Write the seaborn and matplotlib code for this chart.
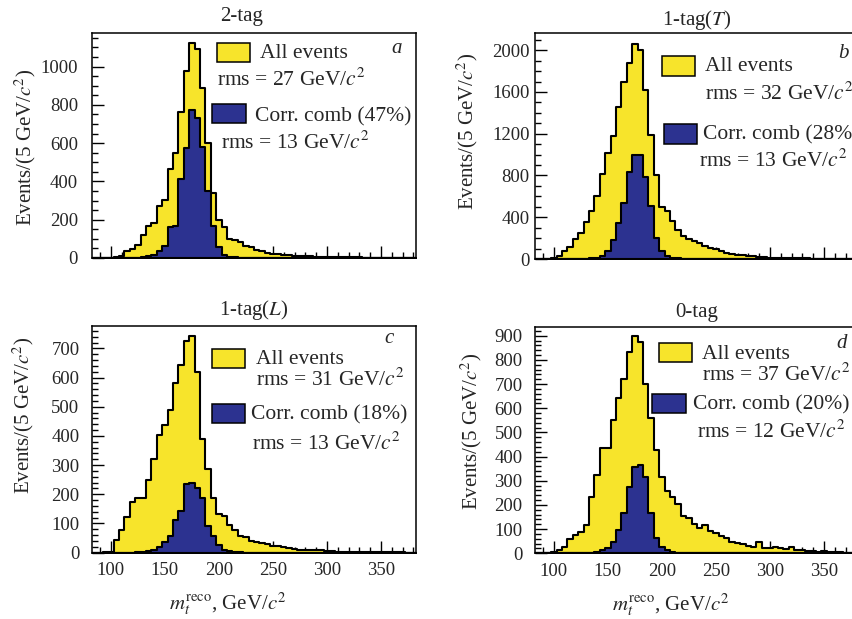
import numpy as np
import pandas as pd
import matplotlib
matplotlib.use("Agg")
import matplotlib.pyplot as plt
from matplotlib.patches import Rectangle
from matplotlib.ticker import MultipleLocator
import seaborn as sns

# 5 GeV/c^2 bins of the reconstructed top mass, 82.5 ... 382.5 GeV/c^2
bin_edges = np.arange(82.5, 383.0, 5.0)
bin_centres = bin_edges[:-1] + 2.5          # 85, 90, ..., 380

# events per bin, all events and correct jet combinations, per tag category
all_2tag = [0, 0, 0, 2, 4, 8, 35, 48, 68, 118,
            165, 182, 270, 305, 465, 550, 765, 975, 1122, 1092,
            888, 600, 342, 200, 160, 100, 95, 86, 62, 55,
            42, 36, 28, 22, 22, 17, 16, 13, 11, 9,
            8, 7, 6, 5, 5, 4, 4, 3, 3, 3,
            2, 2, 2, 2, 1, 1, 1, 1, 1, 1]
corr_2tag = [0, 0, 0, 0, 0, 0, 0, 1, 2, 4,
             8, 15, 36, 62, 162, 168, 414, 574, 772, 730,
             578, 352, 165, 60, 18, 6, 3, 2, 1, 0,
             0, 0, 0, 0, 0, 0, 0, 0, 0, 0,
             0, 0, 0, 0, 0, 0, 0, 0, 0, 0,
             0, 0, 0, 0, 0, 0, 0, 0, 0, 0]

all_1tagT = [0, 0, 2, 6, 32, 75, 118, 192, 245, 352,
             461, 604, 812, 1018, 1177, 1455, 1700, 1875, 2055, 2003,
             1620, 1187, 800, 500, 460, 362, 278, 220, 195, 175,
             150, 128, 102, 93, 80, 61, 48, 38, 38, 29,
             29, 22, 16, 14, 12, 10, 9, 8, 7, 6,
             5, 4, 4, 3, 3, 2, 2, 2, 1, 1]
corr_1tagT = [0, 0, 0, 0, 0, 0, 0, 0, 0, 3,
              6, 12, 32, 74, 186, 346, 540, 830, 995, 995,
              790, 505, 200, 75, 30, 12, 5, 2, 0, 0,
              0, 0, 0, 0, 0, 0, 0, 0, 0, 0,
              0, 0, 0, 0, 0, 0, 0, 0, 0, 0,
              0, 0, 0, 0, 0, 0, 0, 0, 0, 0]

all_1tagL = [0, 0, 1, 3, 44, 77, 122, 172, 187, 187,
             247, 321, 402, 438, 490, 581, 643, 727, 742, 620,
             391, 287, 187, 133, 124, 96, 76, 58, 53, 38,
             36, 33, 28, 22, 22, 18, 15, 12, 10, 7,
             8, 7, 7, 5, 4, 3, 3, 3, 2, 2,
             2, 2, 1, 1, 1, 1, 1, 1, 0, 0]
corr_1tagL = [0, 0, 0, 0, 0, 0, 0, 0, 1, 3,
              5, 10, 18, 35, 55, 112, 142, 235, 240, 222,
              188, 92, 58, 25, 9, 4, 2, 1, 0, 0,
              0, 0, 0, 0, 0, 0, 0, 0, 0, 0,
              0, 0, 0, 0, 0, 0, 0, 0, 0, 0,
              0, 0, 0, 0, 0, 0, 0, 0, 0, 0]

all_0tag = [0, 0, 1, 5, 14, 28, 58, 74, 90, 118,
            232, 322, 437, 437, 552, 642, 722, 833, 897, 876,
            702, 558, 426, 316, 256, 234, 202, 153, 145, 122,
            104, 118, 92, 84, 70, 62, 46, 44, 40, 32,
            28, 46, 22, 22, 26, 20, 18, 24, 14, 12,
            10, 9, 7, 8, 5, 4, 4, 3, 3, 2]
corr_0tag = [0, 0, 0, 0, 0, 0, 0, 0, 0, 1,
             2, 5, 15, 22, 48, 95, 168, 275, 358, 365,
             315, 165, 62, 26, 12, 6, 3, 1, 0, 0,
             0, 0, 0, 0, 0, 0, 0, 0, 0, 0,
             0, 0, 0, 0, 0, 0, 0, 0, 0, 0,
             0, 0, 0, 0, 0, 0, 0, 0, 0, 0]

titles = ["2-tag", "1-tag($T$)", "1-tag($L$)", "0-tag"]
letters = ["a", "b", "c", "d"]
rms_all = [27, 32, 31, 37]
rms_corr = [13, 13, 13, 12]
corr_frac = [47, 28, 18, 20]
x_ticks = [100, 150, 200, 250, 300, 350]

YELLOW = "#f7e42b"
BLUE = "#2c3290"

sns.set_theme(style="ticks")
plt.rcParams["font.family"] = ["Liberation Serif", "DejaVu Serif"]
plt.rcParams["mathtext.fontset"] = "stix"
plt.rcParams["axes.linewidth"] = 1.1

fig = plt.figure(figsize=(8.52, 6.19), dpi=100)
W, H = 852.0, 619.0

def px_axes(left, top, bottom, width=324.0):
    return fig.add_axes([left / W, (H - bottom) / H, width / W, (bottom - top) / H])

panels = [
    dict(ax=px_axes(92, 33, 258), all=all_2tag, corr=corr_2tag, ymax=1175,
         major=200, minor=50, pad=10, title_x=0.463, title_y=1.072,
         ylab=(-0.207, 0.49),
         ybox=(0.386, 0.872, 0.102, 0.085), txt_all=(0.519, 0.911), txt_rms1=(0.386, 0.791),
         bbox=(0.370, 0.600, 0.105, 0.084), txt_corr=(0.503, 0.627), txt_rms2=(0.398, 0.511),
         letter=(0.941, 0.933)),
    dict(ax=px_axes(535, 33, 259), all=all_1tagT, corr=corr_1tagT, ymax=2165,
         major=400, minor=100, pad=4, title_x=0.50, title_y=1.058,
         ylab=(-0.208, 0.564),
         ybox=(0.393, 0.810, 0.101, 0.088), txt_all=(0.525, 0.851), txt_rms1=(0.525, 0.733),
         bbox=(0.399, 0.509, 0.100, 0.088), txt_corr=(0.519, 0.549), txt_rms2=(0.507, 0.434),
         letter=(0.952, 0.91)),
    dict(ax=px_axes(92, 326, 552.5), all=all_1tagL, corr=corr_1tagL, ymax=777,
         major=100, minor=20, pad=9, title_x=0.50, title_y=1.07,
         ylab=(-0.213, 0.607),
         ybox=(0.369, 0.813, 0.103, 0.085), txt_all=(0.506, 0.85), txt_rms1=(0.506, 0.762),
         bbox=(0.369, 0.570, 0.103, 0.086), txt_corr=(0.490, 0.607), txt_rms2=(0.495, 0.482),
         letter=(0.918, 0.946)),
    dict(ax=px_axes(535, 327, 553.3), all=all_0tag, corr=corr_0tag, ymax=936,
         major=100, minor=20, pad=9, title_x=0.50, title_y=1.062,
         ylab=(-0.198, 0.537),
         ybox=(0.384, 0.847, 0.101, 0.081), txt_all=(0.514, 0.879), txt_rms1=(0.514, 0.788),
         bbox=(0.362, 0.619, 0.104, 0.085), txt_corr=(0.489, 0.658), txt_rms2=(0.499, 0.537),
         letter=(0.945, 0.928)),
]

for i, p in enumerate(panels):
    ax = p["ax"]
    df = pd.DataFrame({"mass": bin_centres, "all": p["all"], "corr": p["corr"]})
    hist_kw = dict(data=df, x="mass", binwidth=5.0, binrange=(bin_edges[0], bin_edges[-1]),
                   element="step", fill=True, alpha=1, edgecolor="black",
                   linewidth=1.5, ax=ax)
    sns.histplot(weights="all", color=YELLOW, zorder=2, **hist_kw)
    sns.histplot(weights="corr", color=BLUE, zorder=3, **hist_kw)

    ax.set_xlim(82.5, 382.5)
    ax.set_ylim(0, p["ymax"])
    ax.set_xlabel("")
    ax.set_ylabel("")
    ax.xaxis.set_major_locator(MultipleLocator(50))
    ax.xaxis.set_minor_locator(MultipleLocator(10))
    ax.yaxis.set_major_locator(MultipleLocator(p["major"]))
    ax.yaxis.set_minor_locator(MultipleLocator(p["minor"]))
    ax.tick_params(axis="both", which="both", direction="in", top=False, right=False,
                   width=1.0, color="black")
    ax.tick_params(axis="both", which="major", length=8.5, labelsize=13.5)
    ax.tick_params(axis="both", which="minor", length=4.6)
    ax.tick_params(axis="y", which="major", pad=p["pad"])
    ax.tick_params(axis="x", which="major", pad=7)
    if i < 2:
        ax.tick_params(axis="x", labelbottom=False)
    else:
        ax.set_xticks(x_ticks)
        ax.text(0.42, -0.225, r"$m_t^{\rm reco}$, GeV/$c^2$", transform=ax.transAxes,
                ha="center", va="center", fontsize=15)
    for s in ax.spines.values():
        s.set_visible(True)
        s.set_color("black")
        s.set_linewidth(1.1)
        s.set_zorder(5)

    ax.text(p["title_x"], p["title_y"], titles[i], transform=ax.transAxes,
            ha="center", va="center", fontsize=15)
    ax.text(p["ylab"][0], p["ylab"][1], "Events/(5 GeV/$c^2$)", transform=ax.transAxes,
            rotation=90, ha="center", va="center", fontsize=15)

    yb = p["ybox"]
    ax.add_patch(Rectangle((yb[0], yb[1]), yb[2], yb[3], transform=ax.transAxes,
                           facecolor=YELLOW, edgecolor="black", linewidth=1.1, zorder=6))
    bb = p["bbox"]
    ax.add_patch(Rectangle((bb[0], bb[1]), bb[2], bb[3], transform=ax.transAxes,
                           facecolor=BLUE, edgecolor="black", linewidth=1.1, zorder=6))
    ax.text(*p["txt_all"], "All events", transform=ax.transAxes,
            ha="left", va="center", fontsize=15.5, zorder=7)
    ax.text(*p["txt_rms1"], f"rms = {rms_all[i]} GeV/$c^2$", transform=ax.transAxes,
            ha="left", va="center", fontsize=15.5, zorder=7)
    ax.text(*p["txt_corr"], f"Corr. comb ({corr_frac[i]}%)", transform=ax.transAxes,
            ha="left", va="center", fontsize=15.5, zorder=7)
    ax.text(*p["txt_rms2"], f"rms = {rms_corr[i]} GeV/$c^2$", transform=ax.transAxes,
            ha="left", va="center", fontsize=15.5, zorder=7)
    ax.text(*p["letter"], letters[i], transform=ax.transAxes, ha="center", va="center",
            fontsize=15, fontstyle="italic", zorder=7)

fig.savefig("out.png", dpi=100)
